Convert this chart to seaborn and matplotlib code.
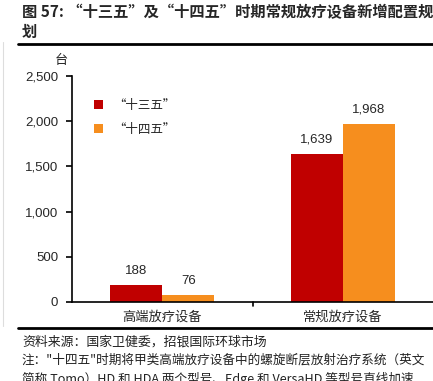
import numpy as np
import pandas as pd
import matplotlib
matplotlib.use("Agg")
import matplotlib.pyplot as plt
import seaborn as sns
from matplotlib.lines import Line2D
from matplotlib.patches import Patch

categories = ["高端放疗设备", "常规放疗设备"]
periods = ["“十三五”", "“十四五”"]
vals_13 = [188, 1639]
vals_14 = [76, 1968]
colors = ["#C00000", "#F68E1E"]
yticks = [0, 500, 1000, 1500, 2000, 2500]

df = pd.DataFrame({
    "cat": categories * 2,
    "period": [periods[0]] * 2 + [periods[1]] * 2,
    "val": vals_13 + vals_14,
})

sns.set_theme(style="white")
plt.rcParams["font.family"] = ["Noto Sans CJK SC", "DejaVu Sans"]
NUM = ["Liberation Sans", "DejaVu Sans"]

W, H = 433, 381
fig = plt.figure(figsize=(W / 100, H / 100), dpi=100)
ax = fig.add_axes([72 / W, 1 - 302 / H, (W - 72) / W, (302 - 76) / H])

sns.barplot(data=df, x="cat", y="val", hue="period", hue_order=periods,
            palette=colors, width=0.576, saturation=1, ax=ax, legend=False,
            edgecolor="none")

ax.set_ylim(0, 2500)
ax.set_xlim(-0.5, 1.5)
ax.set_yticks(yticks)
ax.set_yticklabels([f"{v:,}" for v in yticks], fontfamily=NUM, fontsize=9.5)
ax.set_xticks([0, 1])
ax.set_xticklabels(categories, fontsize=9.5)
ax.set_xlabel("")
ax.set_ylabel("")
for s in ["top", "right"]:
    ax.spines[s].set_visible(False)
for s in ["left", "bottom"]:
    ax.spines[s].set_color("black")
    ax.spines[s].set_linewidth(1.2)
ax.tick_params(axis="y", which="major", direction="out", length=4, width=1.2, color="black", pad=6, left=True)
ax.tick_params(axis="x", length=0, pad=6)
# tick between the two groups
ax.plot([0.5, 0.5], [0, -45], color="black", lw=1.2, clip_on=False)

for cont in ax.containers:
    for bar in cont:
        h = bar.get_height()
        ax.text(bar.get_x() + bar.get_width() / 2, h + 90, f"{int(h):,}",
                ha="center", va="bottom", fontsize=9.5, fontfamily=NUM)

ax.text(-0.03, 1.04, "台", transform=ax.transAxes, fontsize=9.5, ha="center", va="bottom")

handles = [Patch(facecolor=c, edgecolor="none") for c in colors]
ax.legend(handles, periods, loc="upper left", bbox_to_anchor=(0.03, 0.95), frameon=False,
          fontsize=9, handlelength=0.7, handleheight=0.7, handletextpad=0.8, labelspacing=0.9)

fig.text(22 / W, 1 - 12 / H, "图 57: “十三五”及“十四五”时期常规放疗设备新增配置规",
         fontsize=11, fontweight="bold", va="center", ha="left")
fig.text(22 / W, 1 - 32 / H, "划", fontsize=11, fontweight="bold", va="center", ha="left")

fig.add_artist(Line2D([18 / W, 1], [1 - 44 / H] * 2, color="black", lw=2))
fig.add_artist(Line2D([18 / W, 1], [1 - 328 / H] * 2, color="black", lw=2))
fig.add_artist(Line2D([3 / W, 3 / W], [1 - 42 / H, 1 - 326 / H], color="#DDDDDD", lw=0.8))

fig.text(22 / W, 1 - 342 / H, "资料来源：国家卫健委，招银国际环球市场", fontsize=9.3, va="center", color="#222222")
fig.text(22 / W, 1 - 360 / H, "注：\"十四五\"时期将甲类高端放疗设备中的螺旋断层放射治疗系统（英文",
         fontsize=9.1, va="center", color="#222222")
fig.text(22 / W, 1 - 379 / H, "简称 Tomo）HD 和 HDA 两个型号、Edge 和 VersaHD 等型号直线加速",
         fontsize=9.1, va="center", color="#222222")

fig.savefig("out.png", dpi=100)
